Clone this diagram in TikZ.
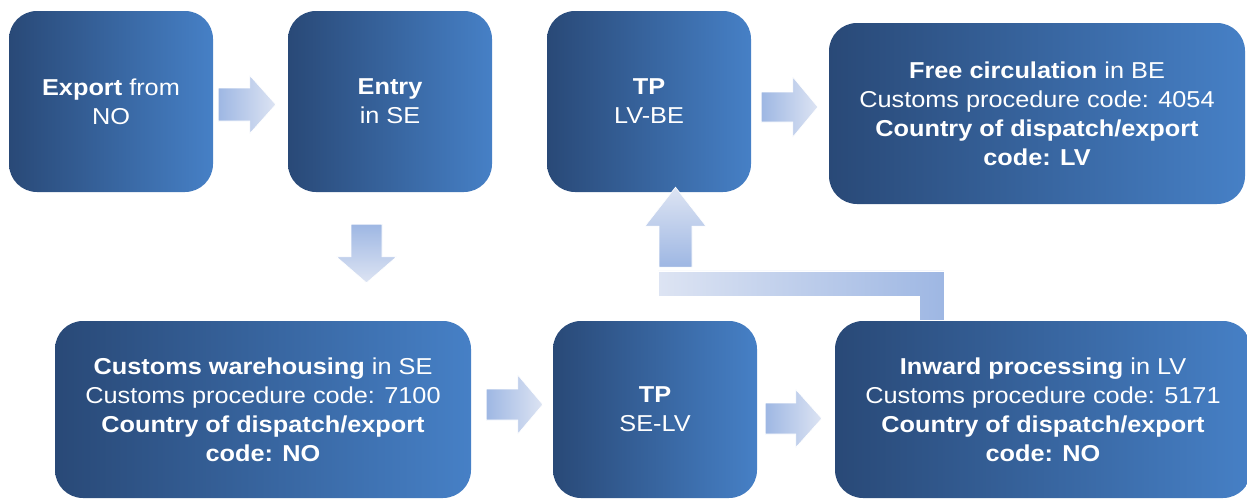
\documentclass[tikz,border=0pt]{standalone}
\usepackage{fontspec}
\setmainfont[FakeStretch=1.1]{Liberation Sans}
\usetikzlibrary{calc}
\definecolor{boxL}{RGB}{41,73,119}
\definecolor{boxR}{RGB}{70,128,198}
\definecolor{arrD}{RGB}{158,183,227}
\definecolor{arrL}{RGB}{221,228,243}
\tikzset{
  box/.style={rounded corners=28pt, left color=boxL, right color=boxR, text=white,
    align=center, inner sep=0pt, font=\fontsize{23}{29}\selectfont},
  smallbox/.style={box, minimum width=204pt, minimum height=181pt},
  lowsmall/.style={box, minimum width=204pt, minimum height=177pt},
  widebox/.style={box, minimum width=416pt, minimum height=181pt},
  lowwide/.style={box, minimum width=416pt, minimum height=177pt},
  blockarrow/.style={draw=white, line width=0.6pt}
}
% right-pointing block arrow: #1 tail, #2 tip, #3 half body, #4 half head, #5 head length
\newcommand{\rblock}[5]{%
  \path[blockarrow, left color=arrD, right color=arrL] let \p1=(#1), \p2=(#2) in
    (\x1,\y1+#3) -- (\x2-#5,\y1+#3) -- (\x2-#5,\y1+#4) -- (\x2,\y1)
    -- (\x2-#5,\y1-#4) -- (\x2-#5,\y1-#3) -- (\x1,\y1-#3) -- cycle;}
% vertical block arrow (tail, tip): head length signed by direction
\newcommand{\vblock}[7]{%
  \path[blockarrow, top color=#6, bottom color=#7] let \p1=(#1), \p2=(#2) in
    (\x1-#3,\y1) -- (\x1-#3,\y2+#5) -- (\x1-#4,\y2+#5) -- (\x1,\y2)
    -- (\x1+#4,\y2+#5) -- (\x1+#3,\y2+#5) -- (\x1+#3,\y1) -- cycle;}
\begin{document}
\begin{tikzpicture}[x=1pt,y=-1pt]
\useasboundingbox (0,0) rectangle (1247,498);
% boxes
\node[smallbox] (b1) at (111,101.5) {\textbf{Export} from\\NO};
\node[smallbox] (b2) at (390,101.5) {\textbf{Entry}\\in SE};
\node[smallbox] (b3) at (649,101.5) {\textbf{TP}\\LV-BE};
\node[widebox] (b4) at (1037,113.5) {\textbf{Free circulation} in BE\\Customs procedure code: 4054\\\textbf{Country of dispatch/export}\\\textbf{code: LV}};
\node[lowwide] (b5) at (263,409.5) {\textbf{Customs warehousing} in SE\\Customs procedure code: 7100\\\textbf{Country of dispatch/export}\\\textbf{code: NO}};
\node[lowsmall] (b6) at (655,409.5) {\textbf{TP}\\SE-LV};
\node[lowwide] (b7) at (1043,409.5) {\textbf{Inward processing} in LV\\Customs procedure code: 5171\\\textbf{Country of dispatch/export}\\\textbf{code: NO}};
% arrow end points
\coordinate (a1s) at ($(b1.east)+(5,3)$);
\coordinate (a1e) at ($(b2.west)+(-12,3)$);
\coordinate (a3s) at ($(b3.east)+(10,5.5)$);
\coordinate (a3e) at ($(b4.west)+(-11,-6.5)$);
\coordinate (a5s) at ($(b5.east)+(15,-5)$);
\coordinate (a5e) at ($(b6.west)+(-10,-5)$);
\coordinate (a6s) at ($(b6.east)+(8,9)$);
\coordinate (a6e) at ($(b7.west)+(-13,9)$);
\coordinate (a2s) at ($(b2.south)+(-23.5,32)$);
\coordinate (a2e) at ($(b5.north)+(103.5,-38)$);
\coordinate (upe) at ($(b3.south)+(26.5,-5)$);
\coordinate (ups) at ($(upe)+(0,80)$);
\coordinate (barL) at ($(upe)+(-17.5,83)$);
\coordinate (barR) at ($(b7.north)+(-99,-50)$);
\coordinate (barB) at ($(b7.north)+(-99,-1)$);
% horizontal arrows
\rblock{a1s}{a1e}{16.5pt}{29pt}{26pt}
\rblock{a3s}{a3e}{15pt}{30pt}{25pt}
\rblock{a5s}{a5e}{15.5pt}{29.5pt}{25pt}
\rblock{a6s}{a6e}{15.5pt}{29pt}{26pt}
% down arrow
\vblock{a2s}{a2e}{15.5pt}{30pt}{26pt}{arrD}{arrL}
% bent connector from b7 up to b3
\path[blockarrow, left color=arrL, right color=arrD]
  let \p1=(barL), \p2=(barR), \p3=(barB) in
  (\x1,\y2) -- (\x2,\y2) -- (\x2,\y3) -- (\x2-25pt,\y3) -- (\x2-25pt,\y2-25pt) -- (\x1,\y2-25pt) -- cycle;
\vblock{ups}{upe}{16.5pt}{30.5pt}{-39pt}{arrL}{arrD}
\end{tikzpicture}
\end{document}
